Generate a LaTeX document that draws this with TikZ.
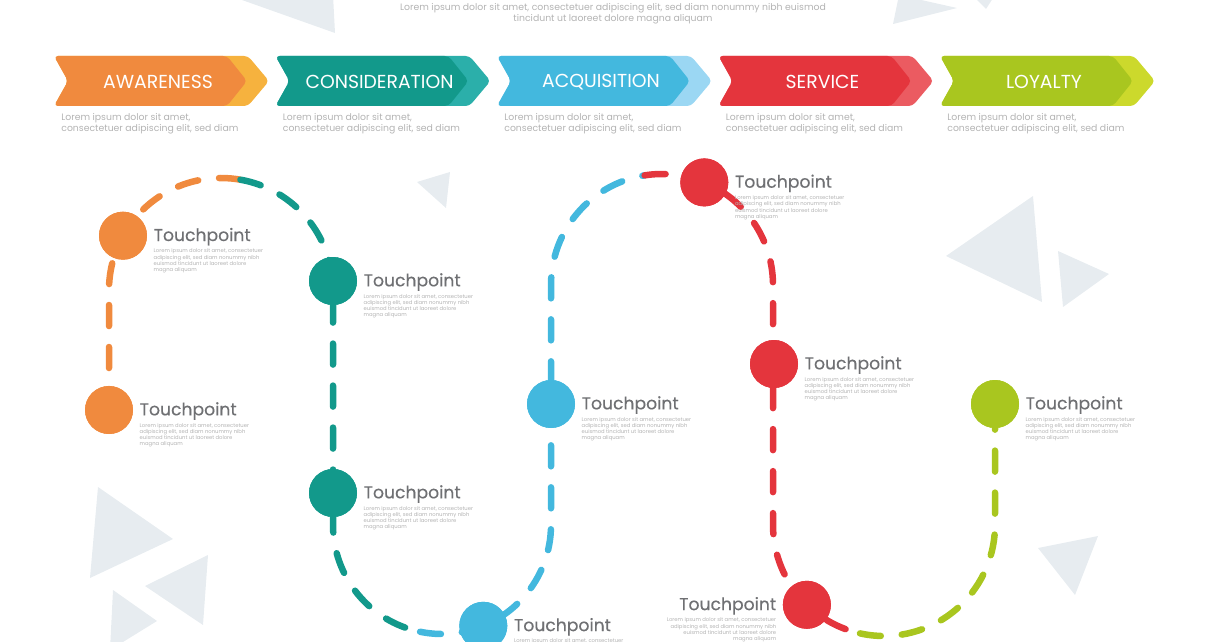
\documentclass[tikz,border=0pt]{standalone}
\usepackage{fontspec}
\setmainfont{Poppins}
\newfontfamily\tpfont[FakeBold=0.4]{Poppins}
\usepackage{xcolor}
\usetikzlibrary{positioning}
\usetikzlibrary{calc}

\definecolor{orangeD}{HTML}{F08A3E}
\definecolor{orangeL}{HTML}{F6B23E}
\definecolor{tealD}{HTML}{12998B}
\definecolor{tealL}{HTML}{2BAFAA}
\definecolor{blueD}{HTML}{43B8DE}
\definecolor{blueL}{HTML}{9BD7F3}
\definecolor{redD}{HTML}{E4353D}
\definecolor{redL}{HTML}{EB5B61}
\definecolor{greenD}{HTML}{A9C61F}
\definecolor{greenL}{HTML}{CCD92C}
\definecolor{shardgray}{HTML}{E7ECF0}
\definecolor{titlegray}{HTML}{6F7073}
\definecolor{notegray}{HTML}{B3B3B3}

\newcommand{\tpnote}{Lorem ipsum dolor sit amet, consectetuer\\adipiscing elit, sed diam nonummy nibh\\euismod tincidunt ut laoreet dolore\\magna aliquam}

\begin{document}
\begin{tikzpicture}[x=0.02cm, y=-0.02cm,
    tp/.style={circle, fill=#1, inner sep=0pt, minimum size=0.96cm},
    tptitle/.style={font=\tpfont\fontsize{9.8}{12}\selectfont, text=titlegray, inner sep=0pt},
    tpbody/.style={font=\fontsize{3}{3.6}\selectfont, text=notegray, inner sep=0pt},
    stagetitle/.style={font=\fontsize{10.7}{12}\selectfont, text=white, inner sep=0pt},
    stagenote/.style={font=\fontsize{5.3}{6.2}\selectfont, text=notegray, inner sep=0pt, align=left},
    route/.style={draw=#1, line width=0.13cm, line cap=round, dash pattern=on 0.42cm off 0.42cm},
    shard/.style={fill=shardgray}]

  \useasboundingbox (0,0) rectangle (1210,642);
  \clip (0,0) rectangle (1210,642);

  % background shards
  \fill[shard] (242,0) -- (335,33) -- (333,-5) -- cycle;
  \fill[shard] (893,24) -- (957,8) -- (899,-5) -- cycle;
  \fill[shard] (972,-5) -- (986,9) -- (995,-5) -- cycle;
  \fill[shard] (417,182) -- (450,172) -- (446,208) -- cycle;
  \fill[shard] (946,256) -- (1033,196) -- (1042,302) -- cycle;
  \fill[shard] (1058,251) -- (1109,274) -- (1063,307) -- cycle;
  \fill[shard] (98,487) -- (173,539) -- (90,578) -- cycle;
  \fill[shard] (208,555) -- (145,586) -- (203,625) -- cycle;
  \fill[shard] (113,590) -- (157,621) -- (110,650) -- cycle;
  \fill[shard] (1038,548) -- (1098,536) -- (1075,595) -- cycle;

  % intro
  \node[stagenote, align=center] (intro) at (613,14) {Lorem ipsum dolor sit amet, consectetuer adipiscing elit, sed diam nonummy nibh euismod\\tincidunt ut laoreet dolore magna aliquam};

  % stages
  \foreach \nm/\lbl/\dk/\lt [count=\i from 0] in {aw/AWARENESS/orangeD/orangeL, co/CONSIDERATION/tealD/tealL, ac/ACQUISITION/blueD/blueL, se/SERVICE/redD/redL, lo/LOYALTY/greenD/greenL}{
    \pgfmathsetmacro{\xs}{54+221.5*\i}
    \fill[\lt, rounded corners=0.8mm] (\xs,56) -- (\xs+194,56) -- (\xs+215,81) -- (\xs+194,106) -- (\xs,106) -- (\xs+14,81) -- cycle;
    \fill[\dk, rounded corners=0.8mm] (\xs,56) -- (\xs+173,56) -- (\xs+193,81) -- (\xs+173,106) -- (\xs,106) -- (\xs+14,81) -- cycle;
    \node[stagetitle] (\nm) at (\xs+104,82) {\lbl};
    \node[stagenote, anchor=north west] (\nm-note) at (\xs+7,113) {Lorem ipsum dolor sit amet,\\consectetuer adipiscing elit, sed diam};
  }

  % turning points of the route
  \coordinate (u1) at (109,290);
  \coordinate (d1) at (333,525);
  \coordinate (u2) at (551,285);
  \coordinate (d2) at (773,525);

  % touchpoints
  \node[tp=orangeD] (tpA) at (123,235.7) {};
  \node[tp=orangeD] (tpB) at (109,410) {};
  \node[tp=tealD]   (tpC) at (333,281) {};
  \node[tp=tealD]   (tpD) at (333,493) {};
  \node[tp=blueD]   (tpE) at (483.3,625.8) {};
  \node[tp=blueD]   (tpF) at (551,404) {};
  \node[tp=redD]    (tpG) at (704.3,182.4) {};
  \node[tp=redD]    (tpH) at (774,364) {};
  \node[tp=redD]    (tpI) at (806.9,604.8) {};
  \node[tp=greenD]  (tpJ) at (995,404) {};

  % route
  \draw[route=orangeD] (tpB.center) -- (u1) arc[start angle=180, end angle=280, radius=112] coordinate (k1);
  \draw[route=tealD] (k1) arc[start angle=280, end angle=360, radius=112] -- (d1) arc[start angle=180, end angle=101.6, radius=109] coordinate (k2);
  \draw[route=blueD] (k2) arc[start angle=101.6, end angle=0, radius=109] -- (u2) arc[start angle=180, end angle=261, radius=111] coordinate (k3);
  \draw[route=redD] (k3) arc[start angle=261, end angle=360, radius=111] -- (d2) arc[start angle=180, end angle=102.5, radius=111] coordinate (k4);
  \draw[route=greenD] (k4) arc[start angle=102.5, end angle=0, radius=111] -- (tpJ.center);

  % circles again on top of the route
  \foreach \n/\c in {tpA/orangeD, tpB/orangeD, tpC/tealD, tpD/tealD, tpE/blueD, tpF/blueD, tpG/redD, tpH/redD, tpI/redD, tpJ/greenD}
    \fill[\c] (\n.center) circle (24);

  % labels
  \foreach \n in {tpA, tpB, tpC, tpD, tpE, tpF, tpG, tpH, tpJ}{
    \node[tptitle, anchor=west] (\n-t) at ([xshift=0.12cm, yshift=-0.02cm]\n.east) {Touchpoint};
    \node[tpbody, anchor=north west, align=left] (\n-b) at ([yshift=-0.05cm]\n-t.south west) {\tpnote};
  }
  \node[tptitle, anchor=east] (tpI-t) at ([xshift=-0.12cm, yshift=-0.02cm]tpI.west) {Touchpoint};
  \node[tpbody, anchor=north east, align=right] (tpI-b) at ([yshift=-0.05cm]tpI-t.south east) {\tpnote};
\end{tikzpicture}
\end{document}
